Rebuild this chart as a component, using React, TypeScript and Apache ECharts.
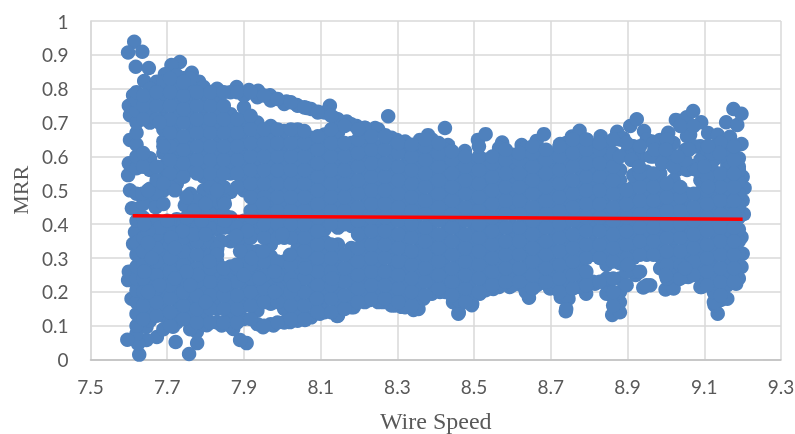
import React, { useEffect, useRef } from "react";
import * as echarts from "echarts";

const xTicks = [7.5, 7.7, 7.9, 8.1, 8.3, 8.5, 8.7, 8.9, 9.1, 9.3];
const trendSpeed = [7.61, 9.2];
const trendMrr = [0.425, 0.415];

// Isolated points and the outline of the cloud
const edgeSpeed = [7.614,7.598,7.635,7.618,7.652,7.64,7.733,7.711,7.694,7.764,7.746,7.783,7.673,7.881,7.913,7.937,7.968,8.011,8.038,8.064,8.093,8.124,8.137,8.168,8.194,8.216,8.242,8.276,8.268,8.298,
8.32,8.359,8.38,8.424,8.432,8.476,8.51,8.53,8.573,8.624,8.646,8.663,8.682,8.724,8.755,8.775,8.794,8.83,8.873,8.889,8.907,8.924,8.943,8.915,8.899,8.934,8.963,8.985,9.006,9.026,9.041,9.054,9.071,9.092,9.063,9.11,9.135,9.167,9.157,9.186,9.176,9.197,9.197,9.015,9.05,9.083,9.028,9.069,8.88,
9.18,9.19,9.2,9.205,9.2,9.203,9.197,9.2,9.197,9.183,9.135,9.127,9.143,9.127,9.093,9.058,9.03,8.999,8.959,8.941,8.921,8.86,8.869,8.863,8.85,8.815,8.792,8.739,8.746,8.726,8.698,8.663,8.643,8.624,8.593,8.55,8.515,8.494,8.459,8.445,8.411,8.368,8.342,8.311,
8.294,8.262,8.229,8.186,8.143,8.098,8.059,8.02,7.977,7.95,7.907,7.89,7.872,7.842,7.803,7.778,7.757,7.777,7.722,7.715,7.673,7.646,7.627,7.624,7.62,7.596,7.646,7.638,7.607,7.598,7.6,7.611,7.616,
7.608,7.603,7.598,7.6,7.603,7.603,7.6,7.611,7.746];
const edgeMrr = [.939,.907,.909,.865,.861,.823,.879,.87,.843,.847,.832,.821,.821,.805,.796,.794,.781,.762,.752,.743,.732,.75,.713,.703,.69,.684,.684,.719,.663,.649,
.644,.649,.663,.684,.634,.616,.649,.666,.641,.634,.604,.646,.666,.637,.659,.676,.649,.66,.673,.654,.69,.71,.675,.629,.61,.599,.644,.649,.67,.708,.698,.716,.734,.701,.664,.669,.664,.658,.701,.693,.74,.726,.637,.637,.619,.629,.56,.572,.56,
.6,.57,.54,.507,.47,.43,.362,.313,.274,.224,.136,.161,.176,.195,.215,.244,.236,.207,.22,.213,.25,.132,.161,.185,.21,.224,.195,.143,.18,.185,.21,.22,.183,.22,.215,.209,.195,.161,.136,.17,.2,.18,.147,.156,
.16,.17,.176,.155,.129,.136,.117,.111,.101,.096,.049,.058,.091,.101,.102,.049,.017,.082,.052,.097,.067,.058,.015,.047,.077,.059,.097,.126,.18,.235,.26,.342,.377,
.447,.5,.545,.58,.649,.722,.75,.781,.456];

// Body of the cloud, read column by column
const bodySpeed = [7.62,7.655,7.69,7.725,7.76,7.795,7.83,7.865,7.9,7.935,7.97,8.005,8.04,8.075,8.11,8.145,8.18,8.215,8.25,8.285,8.32,8.355,8.39,8.425,8.46,8.495,8.53,8.565,8.6,8.635,8.67,8.705,8.74,8.775,8.81,8.845,8.88,8.915,8.95,8.985,9.02,9.055,9.09,9.125,9.16,9.19];
const bodyMrr = [
[.1,.135,.17,.205,.24,.275,.31,.345,.41,.445,.49,.565,.6,.635,.67,.7,.735,.765,.79],
[.115,.15,.185,.22,.255,.29,.325,.36,.395,.47,.505,.56,.595,.7,.735,.77,.8],
[.09,.13,.165,.2,.235,.27,.305,.34,.38,.5,.535,.57,.61,.645,.68,.715,.75,.785,.82],
[.11,.145,.18,.215,.25,.285,.32,.355,.39,.415,.52,.555,.59,.625,.66,.695,.73,.765,.8,.84],
[.09,.13,.165,.2,.235,.27,.305,.345,.38,.41,.49,.56,.595,.63,.665,.7,.735,.77,.805,.83],
[.105,.14,.175,.21,.245,.28,.315,.35,.39,.43,.465,.5,.54,.575,.61,.645,.68,.715,.75,.785,.805],
[.11,.15,.185,.22,.255,.29,.325,.385,.42,.455,.49,.53,.565,.6,.635,.67,.705,.74,.775,.8],
[.1,.135,.17,.205,.24,.275,.35,.39,.42,.495,.55,.585,.62,.655,.69,.725,.79],
[.12,.16,.195,.23,.265,.3,.335,.375,.41,.5,.535,.57,.605,.64,.675,.71,.745,.78],
[.105,.145,.18,.215,.25,.285,.32,.385,.42,.455,.49,.525,.56,.595,.63,.665,.7,.775],
[.105,.165,.2,.235,.27,.305,.34,.375,.41,.445,.48,.515,.55,.585,.62,.655,.69,.765],
[.11,.15,.185,.22,.255,.29,.36,.395,.43,.465,.5,.535,.57,.605,.64,.675,.755],
[.115,.15,.19,.225,.26,.295,.33,.365,.4,.435,.47,.505,.54,.575,.61,.645,.68,.75],
[.125,.165,.2,.235,.27,.305,.34,.375,.41,.445,.48,.515,.55,.585,.62,.655,.74],
[.14,.175,.21,.245,.28,.315,.35,.385,.42,.455,.49,.525,.56,.595,.63,.665,.73],
[.13,.165,.2,.235,.27,.305,.34,.39,.425,.46,.495,.53,.565,.6,.635,.67,.71],
[.155,.19,.225,.26,.295,.33,.395,.43,.465,.5,.535,.57,.605,.64,.695],
[.17,.205,.24,.275,.31,.345,.38,.415,.45,.485,.52,.555,.59,.625,.66,.685],
[.17,.21,.245,.28,.315,.35,.385,.42,.455,.49,.525,.56,.595,.63,.68],
[.16,.195,.23,.265,.3,.335,.37,.405,.44,.475,.51,.545,.58,.615,.655],
[.155,.19,.225,.26,.295,.33,.365,.4,.435,.47,.505,.54,.575,.61,.64],
[.15,.185,.22,.255,.29,.325,.36,.395,.43,.465,.5,.535,.57,.605,.64],
[.195,.23,.265,.3,.335,.37,.405,.44,.475,.51,.545,.58,.615,.65],
[.2,.235,.27,.305,.34,.375,.41,.445,.48,.515,.55,.585,.62],
[.14,.175,.21,.245,.28,.315,.35,.385,.42,.455,.49,.525,.56,.595],
[.165,.2,.235,.27,.305,.34,.375,.41,.445,.48,.515,.55,.585],
[.205,.24,.275,.31,.345,.38,.415,.45,.485,.52,.555,.59],
[.215,.25,.285,.32,.355,.39,.425,.46,.495,.53,.565,.6,.625],
[.22,.255,.29,.325,.36,.395,.43,.465,.5,.535,.57,.605],
[.2,.24,.275,.31,.345,.38,.415,.45,.485,.52,.555,.59,.625],
[.225,.26,.295,.33,.365,.4,.435,.47,.505,.54,.575,.61],
[.215,.25,.285,.32,.355,.39,.425,.46,.495,.53,.565,.6],
[.15,.19,.23,.265,.3,.335,.37,.405,.44,.475,.51,.545,.58,.615,.64],
[.215,.25,.285,.32,.355,.39,.425,.46,.495,.53,.565,.6,.64],
[.23,.31,.345,.38,.415,.45,.485,.52,.555,.59,.63],
[.195,.24,.28,.315,.35,.385,.42,.455,.49,.525,.56,.6,.635],
[.14,.17,.2,.24,.285,.32,.355,.39,.425,.46,.495,.53,.56,.65],
[.26,.3,.335,.37,.405,.44,.475,.51,.545,.6,.63],
[.22,.31,.345,.38,.415,.45,.485,.52,.555,.65],
[.27,.305,.34,.375,.41,.445,.48,.515,.55,.6,.645],
[.21,.25,.29,.325,.36,.395,.43,.465,.5,.53,.6,.64],
[.245,.28,.315,.35,.385,.42,.455,.49,.56,.62,.66],
[.215,.25,.285,.32,.355,.39,.425,.46,.495,.53,.59,.63],
[.17,.2,.24,.275,.31,.345,.38,.415,.45,.485,.52,.555,.59,.63],
[.18,.22,.26,.295,.33,.365,.4,.435,.47,.505,.54,.575,.61,.65],
[.24,.28,.315,.35,.385,.42,.455,.49,.525,.56,.595],
];

// Points lying between those columns
const midSpeed = [7.6375,7.6725,7.7075,7.7425,7.7775,7.8125,7.8475,7.8825,7.9175,7.9525,7.9875,8.0225,8.0575,8.0925,8.1275,8.1625,8.1975,8.2325,8.2675,8.3025,8.3375,8.3725,8.4075,8.4425,8.4775,8.5125,8.5475,8.5825,8.6175,8.6525,8.6875,8.7225,8.7575,8.7925,8.8275,8.8625,8.8975,8.9325,8.9675,9.0025,9.0375,9.0725,9.1075,9.1425,9.1775];
const midMrr = [
[.12,.16,.2,.24,.28,.32,.36,.42,.46,.57,.61,.71,.75,.78],
[.13,.17,.21,.25,.29,.33,.37,.41,.49,.53,.57,.71,.75,.79],
[.1,.14,.18,.22,.26,.3,.34,.38,.51,.55,.59,.63,.67,.71,.75,.79,.83],
[.12,.16,.2,.24,.28,.32,.36,.4,.54,.58,.62,.66,.7,.74,.78,.82],
[.11,.15,.19,.23,.27,.31,.35,.39,.43,.47,.55,.59,.63,.67,.71,.75,.79],
[.11,.15,.19,.23,.27,.31,.35,.39,.43,.47,.51,.55,.59,.63,.67,.71,.75,.79],
[.11,.15,.19,.23,.27,.39,.43,.47,.51,.55,.59,.63,.67,.71,.75,.79],
[.11,.15,.19,.23,.27,.35,.39,.51,.55,.59,.63,.67,.71,.79],
[.12,.16,.2,.24,.28,.32,.36,.4,.44,.48,.52,.56,.6,.64,.68,.72,.79],
[.1,.17,.21,.25,.29,.36,.4,.44,.48,.52,.56,.6,.64,.68,.78],
[.11,.17,.21,.25,.29,.36,.4,.44,.48,.52,.56,.6,.64,.68,.77],
[.12,.16,.2,.24,.28,.36,.4,.44,.48,.52,.56,.6,.64,.68,.76],
[.12,.16,.2,.24,.28,.32,.36,.4,.44,.48,.52,.56,.6,.64,.675,.745],
[.14,.18,.22,.26,.3,.34,.38,.42,.46,.5,.54,.58,.62,.66,.73],
[.14,.18,.22,.26,.3,.34,.4,.44,.48,.52,.56,.6,.64,.68,.72],
[.15,.19,.23,.27,.31,.4,.44,.48,.52,.56,.6,.64,.69],
[.17,.21,.25,.29,.33,.37,.41,.45,.49,.53,.57,.61,.65,.68],
[.18,.22,.26,.3,.34,.38,.42,.46,.5,.54,.58,.62,.66],
[.18,.22,.26,.3,.34,.38,.42,.46,.5,.54,.58,.62,.66],
[.17,.21,.25,.29,.33,.37,.41,.45,.49,.53,.57,.61,.64],
[.16,.2,.24,.28,.32,.36,.4,.44,.48,.52,.56,.6,.635],
[.19,.23,.27,.31,.35,.39,.43,.47,.51,.55,.59,.63,.65],
[.21,.25,.29,.33,.37,.41,.45,.49,.53,.57,.61,.64],
[.19,.23,.27,.31,.35,.39,.43,.47,.51,.55,.59,.615],
[.17,.21,.25,.29,.33,.37,.41,.45,.49,.53,.57,.6],
[.2,.24,.28,.32,.36,.4,.44,.48,.52,.56,.6,.63],
[.22,.26,.3,.34,.38,.42,.46,.5,.54,.58,.6],
[.23,.27,.31,.35,.39,.43,.47,.51,.55,.59,.62],
[.23,.27,.31,.35,.39,.43,.47,.51,.55,.59,.61],
[.21,.25,.29,.33,.37,.41,.45,.49,.53,.57,.61,.63],
[.23,.27,.31,.35,.39,.43,.47,.51,.55,.59,.62],
[.2,.24,.28,.32,.36,.4,.44,.48,.52,.56,.6,.63],
[.21,.25,.29,.33,.37,.41,.45,.49,.53,.57,.61,.65],
[.22,.26,.3,.34,.38,.42,.46,.5,.54,.58,.62,.65],
[.23,.3,.34,.38,.42,.46,.5,.54,.58,.62,.64],
[.16,.2,.24,.29,.33,.37,.41,.45,.49,.53,.57,.61,.65],
[.22,.26,.3,.34,.38,.42,.46,.5,.61,.64],
[.26,.31,.35,.39,.43,.47,.51,.55,.63],
[.31,.35,.39,.43,.47,.51,.55,.6,.64],
[.24,.28,.32,.36,.4,.44,.48,.52,.6,.65],
[.24,.28,.32,.36,.4,.44,.48,.51,.6,.69],
[.25,.29,.33,.37,.41,.45,.49,.57,.63,.69],
[.22,.26,.3,.34,.38,.42,.46,.5,.54,.62],
[.19,.23,.27,.31,.35,.39,.43,.47,.51,.55,.6,.64],
[.23,.27,.31,.35,.39,.43,.47,.51,.55,.59,.63],
];

// Further points where the reference is solid
const extraSpeed = [7.635,7.67,7.69,7.77,7.8,7.83,7.75,7.72,7.69,7.65,7.85,7.85,7.92,7.95,7.84,7.83,7.88,7.89,7.92,7.95,7.98,8.02,8.0,7.91,7.88,7.77,7.74,7.71,7.68,7.65,7.64,7.65,7.7,7.75,7.79,7.8,7.83,7.81,7.78,7.75,7.72,7.68,7.65,7.64,7.66,7.72,7.76,7.8,7.85,7.9,7.94,7.98,8.03,8.09,8.13,8.06,7.68,7.69,8.88,8.91,8.93,8.96,8.99,9.02,9.05,9.08,9.1,9.06,9.03,8.97,9.0,9.12,9.14,9.11,9.11,8.9,9.0,9.05];
const extraMrr = [.49,.45,.46,.44,.46,.5,.48,.5,.52,.5,.46,.41,.42,.46,.35,.33,.28,.32,.3,.32,.26,.31,.37,.38,.365,.37,.38,.36,.39,.38,.4,.345,.41,.42,.41,.37,.31,.29,.25,.26,.24,.22,.2,.26,.3,.33,.22,.17,.22,.25,.24,.2,.22,.18,.24,.27,.7,.63,.6,.59,.57,.6,.58,.57,.59,.56,.57,.62,.6,.62,.62,.61,.61,.63,.51,.28,.25,.27];

const points: number[][] = [];
edgeSpeed.forEach((x, i) => points.push([x, edgeMrr[i]]));
bodySpeed.forEach((x, i) => bodyMrr[i].forEach((y) => points.push([x, y])));
midSpeed.forEach((x, i) => midMrr[i].forEach((y) => points.push([x, y])));
extraSpeed.forEach((x, i) => points.push([x, extraMrr[i]]));

export default function App() {
  const ref = useRef<HTMLDivElement>(null);
  useEffect(() => {
    const chart = echarts.init(ref.current!, null, { renderer: "svg" });
    const labelStyle = { color: "#595959", fontFamily: "Lato", fontSize: 19 };
    chart.setOption({
      animation: false,
      grid: { left: 90.5, right: 14, top: 21, bottom: 74.3, outerBoundsMode: "none" },
      xAxis: {
        type: "value",
        min: 7.5,
        max: 9.3,
        name: "Wire Speed",
        nameLocation: "middle",
        nameGap: 49,
        nameTextStyle: { color: "#595959", fontFamily: "Liberation Serif", fontSize: 24 },
        axisLine: { show: true, onZero: false, lineStyle: { color: "#bfbfbf", width: 1.5 } },
        axisTick: { show: false, customValues: xTicks },
        axisLabel: { ...labelStyle, margin: 17, customValues: xTicks, formatter: (v: number) => v.toFixed(1) },
        splitLine: { show: true, lineStyle: { color: "#d9d9d9", width: 1.5 } },
      },
      yAxis: {
        type: "value",
        min: 0,
        max: 1,
        interval: 0.1,
        name: "MRR",
        nameLocation: "middle",
        nameGap: 57,
        nameTextStyle: { color: "#595959", fontFamily: "Liberation Serif", fontSize: 22 },
        axisLine: { show: true, lineStyle: { color: "#d9d9d9", width: 1.5 } },
        axisTick: { show: false },
        axisLabel: { ...labelStyle, margin: 22 },
        splitLine: { show: true, lineStyle: { color: "#d9d9d9", width: 1.5 } },
      },
      series: [
        { type: "scatter", data: points, symbolSize: 14.5, silent: true, itemStyle: { color: "#4f81bd", opacity: 1 } },
        {
          type: "line",
          data: trendSpeed.map((x, i) => [x, trendMrr[i]]),
          showSymbol: false,
          silent: true,
          z: 5,
          lineStyle: { color: "#ff0000", width: 3.5 },
        },
      ],
    });
    return () => chart.dispose();
  }, []);
  return <div ref={ref} style={{ position: "fixed", left: 0, top: 0, width: 795, height: 434 }} />;
}
